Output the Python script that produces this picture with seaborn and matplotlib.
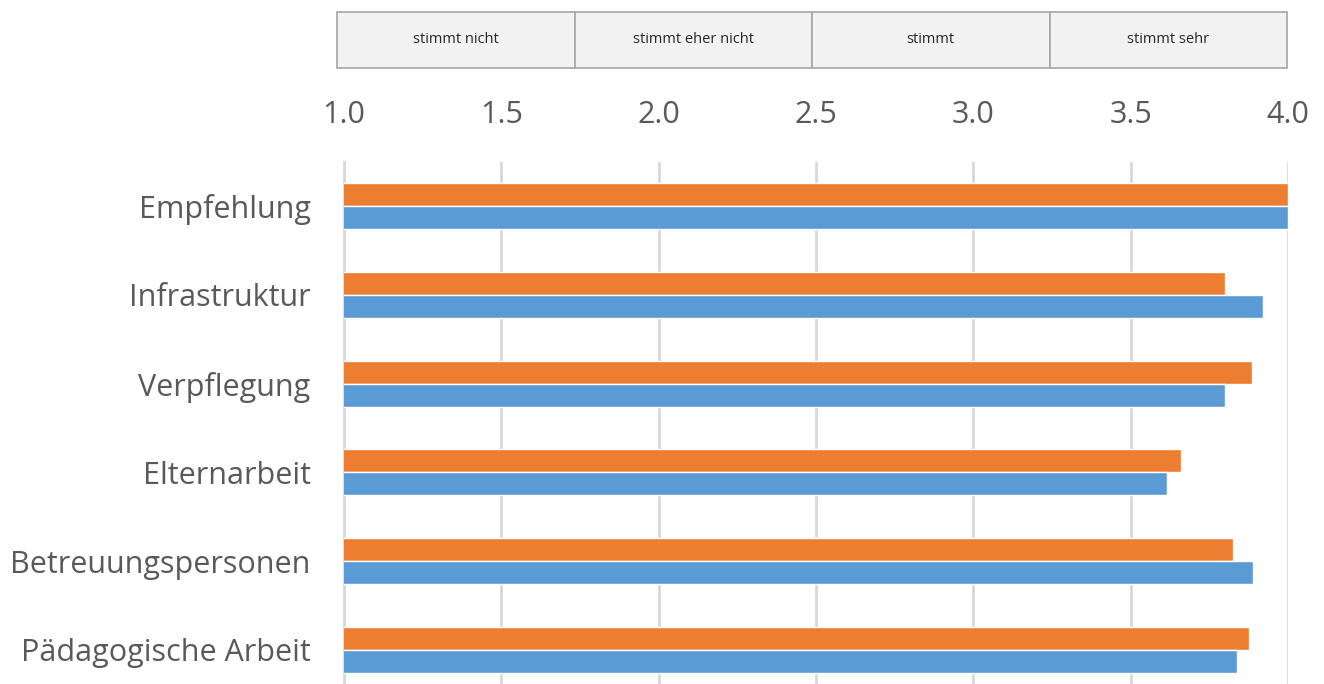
import matplotlib
matplotlib.use("Agg")
import matplotlib.pyplot as plt
import seaborn as sns
import pandas as pd

categories = ["Empfehlung", "Infrastruktur", "Verpflegung", "Elternarbeit",
              "Betreuungspersonen", "Pädagogische Arbeit"]
series_orange = [4.00, 3.80, 3.885, 3.66, 3.825, 3.877]
series_blue = [4.00, 3.92, 3.80, 3.614, 3.89, 3.838]
series_names = ["Reihe 2", "Reihe 1"]  # orange, blue
header_labels = ["stimmt nicht", "stimmt eher nicht", "stimmt", "stimmt sehr"]
x_ticks = [1.0, 1.5, 2.0, 2.5, 3.0, 3.5, 4.0]

sns.set_theme(style="white")
plt.rcParams["font.family"] = ["Open Sans", "DejaVu Sans"]

df = pd.DataFrame({
    "Kategorie": categories * 2,
    "Wert": series_orange + series_blue,
    "Reihe": [series_names[0]] * len(categories) + [series_names[1]] * len(categories),
})

fig = plt.figure(figsize=(13.24, 6.84), dpi=100)
ax = fig.add_axes([344 / 1324, 1 - 694 / 684, 944 / 1324, 532 / 684])

sns.barplot(data=df, x="Wert", y="Kategorie", hue="Reihe", hue_order=series_names,
            order=categories, palette=["#ED7D31", "#5B9BD5"], width=0.52,
            orient="h", ax=ax, legend=False, saturation=1, zorder=3)

ax.set_xlim(1.0, 4.0)
ax.set_xticks(x_ticks)
ax.set_xticklabels([f"{t:.1f}" for t in x_ticks])
ax.xaxis.tick_top()
ax.tick_params(axis="x", length=0, pad=23, labelsize=22, labelcolor="#595959")
ax.tick_params(axis="y", length=0, pad=24, labelsize=22, labelcolor="#595959")
ax.set_xlabel("")
ax.set_ylabel("")
ax.grid(axis="x", color="#d9d9d9", linewidth=2, zorder=0)
ax.set_axisbelow(True)
for s in ["top", "right", "bottom"]:
    ax.spines[s].set_visible(False)
ax.spines["left"].set_color("#d9d9d9")
ax.spines["left"].set_linewidth(2)

# header table
hax = fig.add_axes([337 / 1324, 1 - 68 / 684, 950 / 1324, 56 / 684])
hax.axis("off")
tbl = hax.table(cellText=[header_labels], cellLoc="center", bbox=[0, 0, 1, 1])
tbl.auto_set_font_size(False)
for (r, c), cell in tbl.get_celld().items():
    cell.set_facecolor("#f2f2f2")
    cell.set_edgecolor("#a6a6a6")
    cell.set_linewidth(1.2)
    cell.get_text().set_fontsize(10.5)
    cell.get_text().set_color("#262626")

fig.savefig("out.png", dpi=100)
